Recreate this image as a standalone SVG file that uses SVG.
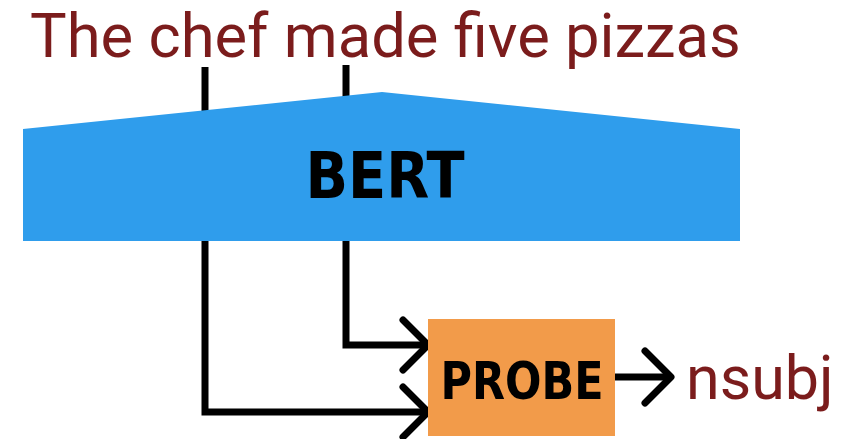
<svg xmlns="http://www.w3.org/2000/svg" width="856" height="439" viewBox="0 0 856 439">
  <style>
    .word { font-family: Roboto, "Liberation Sans", sans-serif; fill: #7b1c1c; }
    .label { font-family: "DejaVu Sans Condensed", "DejaVu Sans", sans-serif; font-weight: bold; fill: #000; }
    .wire { fill: none; stroke: #000; stroke-width: 7; stroke-linejoin: miter; }
    .head { fill: none; stroke: #000; stroke-width: 7; stroke-linecap: round; stroke-linejoin: round; }
  </style>
  <rect width="856" height="439" fill="#fff"/>

  <!-- input sentence -->
  <g id="sentence">
    <text class="word" x="30" y="57" font-size="61.5">The chef made five pizzas</text>
  </g>

  <!-- connectors -->
  <g id="connectors">
    <line class="wire" x1="205" y1="67" x2="205" y2="130"/>
    <line class="wire" x1="346" y1="65" x2="346" y2="130"/>
    <polyline class="wire" points="205,238 205,412 424,412"/>
    <polyline class="wire" points="346,238 346,345 424,345"/>
    <polyline class="head" points="403,320 428,345 403,370"/>
    <polyline class="head" points="403,387 428,412 403,437"/>
    <line class="wire" x1="614" y1="377" x2="668" y2="377"/>
    <polyline class="head" points="645,351 671,377 645,403"/>
  </g>

  <!-- encoder -->
  <g id="bert">
    <polygon points="23,129 382,92 740,129 740,241 23,241" fill="#2f9dec"/>
    <text class="label" x="385" y="198" font-size="64" text-anchor="middle" textLength="159" lengthAdjust="spacingAndGlyphs">BERT</text>
  </g>

  <!-- probe -->
  <g id="probe">
    <rect x="428" y="319" width="187" height="117" fill="#f29b4a"/>
    <text class="label" x="522" y="399" font-size="52" text-anchor="middle" textLength="163" lengthAdjust="spacingAndGlyphs">PROBE</text>
  </g>

  <!-- output label -->
  <g id="output">
    <text class="word" x="686" y="399" font-size="61">nsubj</text>
  </g>
</svg>
